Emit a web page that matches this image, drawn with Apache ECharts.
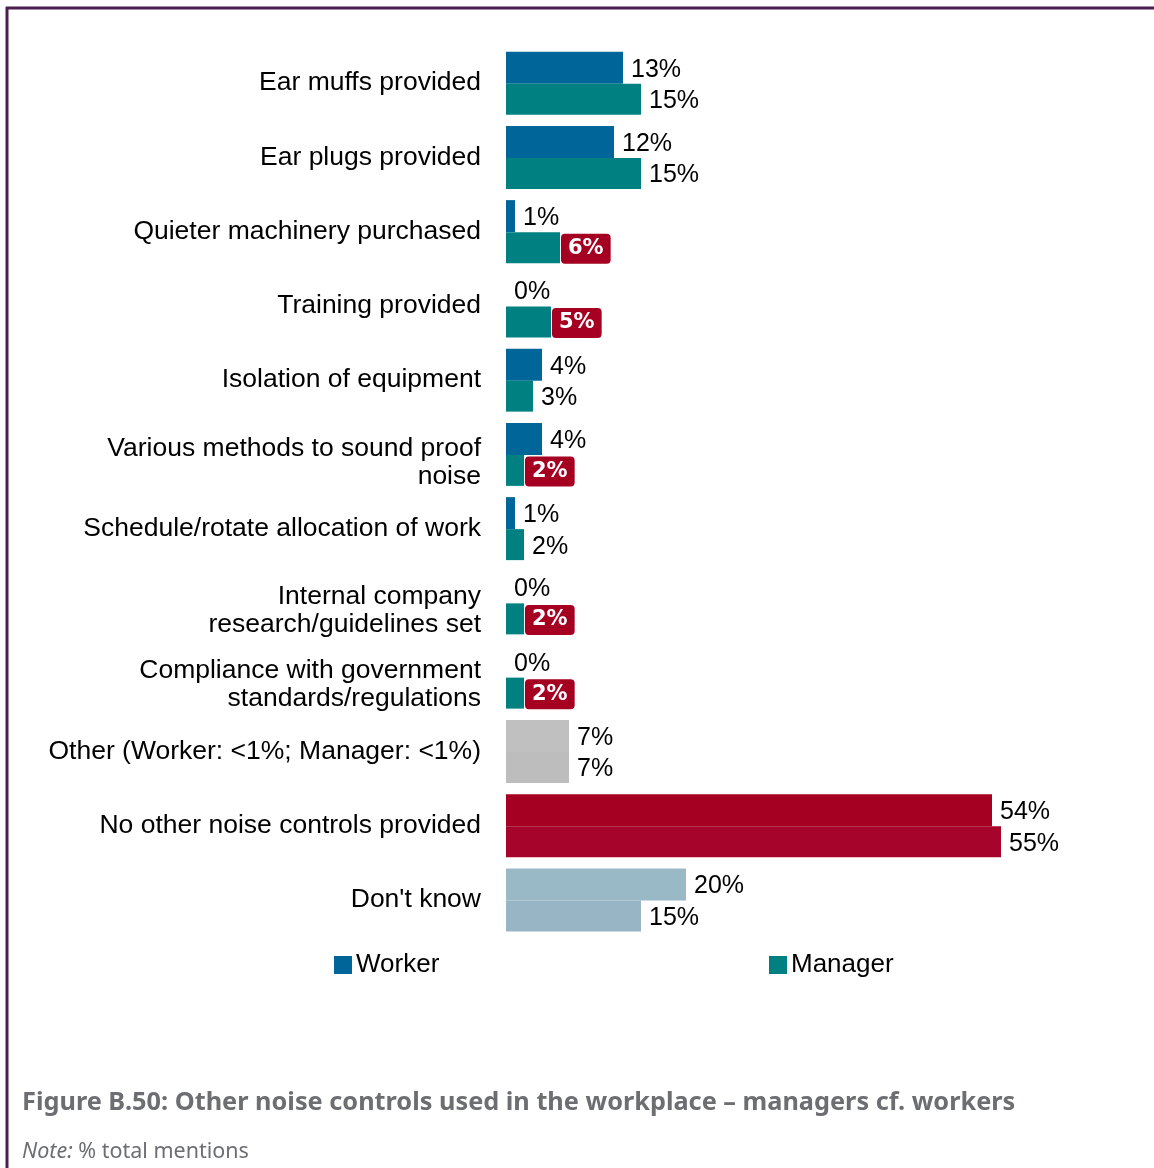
<!DOCTYPE html>
<html>
<head>
<meta charset="utf-8">
<script src="https://cdn.jsdelivr.net/npm/echarts@6/dist/echarts.min.js"></script>
<style>
html,body{margin:0;padding:0;background:#fff;}
#chart{width:1154px;height:1168px;}
</style>
</head>
<body>
<div id="chart"></div>
<script>
var categories = [
  'Ear muffs provided',
  'Ear plugs provided',
  'Quieter machinery purchased',
  'Training provided',
  'Isolation of equipment',
  'Various methods to sound proof\nnoise',
  'Schedule/rotate allocation of work',
  'Internal company\nresearch/guidelines set',
  'Compliance with government\nstandards/regulations',
  'Other (Worker: <1%; Manager: <1%)',
  'No other noise controls provided',
  "Don't know"
];
var workerValues  = [13, 12, 1, 0, 4, 4, 1, 0, 0, 7, 54, 20];
var managerValues = [15, 15, 6, 5, 3, 2, 2, 2, 2, 7, 55, 15];
var managerHighlighted = [false, false, true, true, false, true, false, true, true, false, false, false];
var specialWorkerColors = {9: '#c0c0c0', 10: '#a50021', 11: '#9ab9c6'};
var specialManagerColors = {9: '#bdbdbd', 10: '#a6042a', 11: '#98b5c5'};
var seriesNames = ['Worker', 'Manager'];
var seriesColors = ['#006699', '#008080'];
var titleText = 'Figure B.50: Other noise controls used in the workplace \u2013 managers cf. workers';

var chart = echarts.init(document.getElementById('chart'), null, {renderer: 'canvas'});

var FONT = 'Liberation Sans, Arial, sans-serif';

var valueLabel = {
  show: true, position: 'right', distance: 8, offset: [0, 2],
  fontFamily: FONT, fontSize: 25, color: '#000',
  formatter: function (p) { return p.value + '%'; }
};

function buildData(values, colors, highlighted) {
  return values.map(function (v, i) {
    var item = {value: v};
    if (colors[i]) item.itemStyle = {color: colors[i]};
    if (highlighted && highlighted[i]) {
      item.label = {
        show: true, position: 'right', distance: 1, offset: [0, 1],
        backgroundColor: '#a50021', color: '#fff', fontWeight: 'bold',
        fontFamily: 'DejaVu Sans, Verdana, sans-serif', fontSize: 21,
        padding: [5, 7, 4, 7], borderRadius: 4
      };
    }
    return item;
  });
}

var option = {
  animation: false,
  backgroundColor: '#fff',
  grid: {left: 506, top: 46, width: 540, height: 891, containLabel: false},
  xAxis: {type: 'value', min: 0, max: 60, show: false},
  yAxis: {
    type: 'category', data: categories, inverse: true,
    axisLine: {show: false}, axisTick: {show: false}, splitLine: {show: false},
    axisLabel: {
      margin: 25, color: '#000', fontSize: 26.5, lineHeight: 29,
      fontFamily: FONT, align: 'right',
      formatter: function (value) {
        var parts = value.split('\n');
        if (parts.length < 2) return value;
        return '{a|' + parts[0] + '}\n{b|' + parts[1] + '}';
      },
      rich: {
        a: {fontSize: 26.5, fontFamily: FONT, color: '#000', lineHeight: 44, verticalAlign: 'bottom'},
        b: {fontSize: 26.5, fontFamily: FONT, color: '#000', lineHeight: 29}
      }
    }
  },
  legend: [
    {
      data: [seriesNames[0]], left: 329, top: 947, icon: 'rect',
      itemWidth: 18, itemHeight: 18, itemGap: 4,
      textStyle: {fontSize: 26, color: '#000', fontFamily: FONT, padding: [0, 0, 0, -1]}
    },
    {
      data: [seriesNames[1]], left: 764, top: 947, icon: 'rect',
      itemWidth: 18, itemHeight: 18, itemGap: 4,
      textStyle: {fontSize: 26, color: '#000', fontFamily: FONT, padding: [0, 0, 0, -1]}
    }
  ],
  series: [
    {
      name: seriesNames[0], type: 'bar', barWidth: 32, barGap: '0%',
      itemStyle: {color: seriesColors[0]},
      label: valueLabel,
      data: buildData(workerValues, specialWorkerColors, null)
    },
    {
      name: seriesNames[1], type: 'bar', barWidth: 31, barGap: '0%',
      itemStyle: {color: seriesColors[1]},
      label: valueLabel,
      data: buildData(managerValues, specialManagerColors, managerHighlighted)
    }
  ],
  graphic: [
    {type: 'line', shape: {x1: 6, y1: 8, x2: 1154, y2: 8}, style: {stroke: '#4b1f4f', lineWidth: 3}},
    {type: 'line', shape: {x1: 7, y1: 7, x2: 7, y2: 1168}, style: {stroke: '#4b1f4f', lineWidth: 3}},
    {
      type: 'text', left: 22, top: 1090,
      style: {
        text: titleText, fill: '#6d6e71',
        font: 'bold 25.3px "Noto Sans", sans-serif'
      }
    },
    {
      type: 'text', left: 22, top: 1141,
      style: {
        text: '{i|Note:} % total mentions', fill: '#6d6e71',
        font: '21.5px "Noto Sans", sans-serif',
        rich: {i: {fontStyle: 'italic', fill: '#6d6e71', fontSize: 21.5, fontFamily: '"Noto Sans", sans-serif'}}
      }
    }
  ]
};
chart.setOption(option);
</script>
</body>
</html>
